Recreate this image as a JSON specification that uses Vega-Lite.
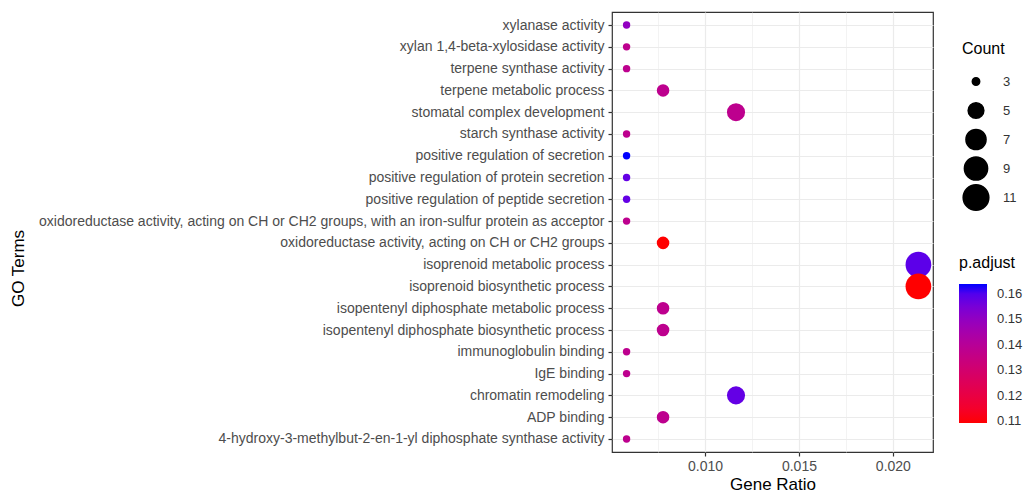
{
  "$schema": "https://vega.github.io/schema/vega-lite/v6.json",
  "autosize": {"type": "none"},
  "width": 321,
  "height": 440,
  "padding": {"left": 612, "top": 12, "right": 95, "bottom": 43},
  "background": "white",
  "config": {
    "font": "Liberation Sans",
    "view": {"stroke": "#333333", "strokeWidth": 1.2}
  },
  "data": {
    "values": [
      {"term": "xylanase activity", "ratio": 0.005825, "count": 3, "padj": 0.150},
      {"term": "xylan 1,4-beta-xylosidase activity", "ratio": 0.005825, "count": 3, "padj": 0.138},
      {"term": "terpene synthase activity", "ratio": 0.005825, "count": 3, "padj": 0.138},
      {"term": "terpene metabolic process", "ratio": 0.007767, "count": 4, "padj": 0.138},
      {"term": "stomatal complex development", "ratio": 0.01165, "count": 6, "padj": 0.138},
      {"term": "starch synthase activity", "ratio": 0.005825, "count": 3, "padj": 0.138},
      {"term": "positive regulation of secretion", "ratio": 0.005825, "count": 3, "padj": 0.1639},
      {"term": "positive regulation of protein secretion", "ratio": 0.005825, "count": 3, "padj": 0.158},
      {"term": "positive regulation of peptide secretion", "ratio": 0.005825, "count": 3, "padj": 0.158},
      {"term": "oxidoreductase activity, acting on CH or CH2 groups, with an iron-sulfur protein as acceptor", "ratio": 0.005825, "count": 3, "padj": 0.138},
      {"term": "oxidoreductase activity, acting on CH or CH2 groups", "ratio": 0.007767, "count": 4, "padj": 0.1092},
      {"term": "isoprenoid metabolic process", "ratio": 0.021359, "count": 11, "padj": 0.159},
      {"term": "isoprenoid biosynthetic process", "ratio": 0.021359, "count": 11, "padj": 0.1092},
      {"term": "isopentenyl diphosphate metabolic process", "ratio": 0.007767, "count": 4, "padj": 0.138},
      {"term": "isopentenyl diphosphate biosynthetic process", "ratio": 0.007767, "count": 4, "padj": 0.138},
      {"term": "immunoglobulin binding", "ratio": 0.005825, "count": 3, "padj": 0.138},
      {"term": "IgE binding", "ratio": 0.005825, "count": 3, "padj": 0.138},
      {"term": "chromatin remodeling", "ratio": 0.01165, "count": 6, "padj": 0.158},
      {"term": "ADP binding", "ratio": 0.007767, "count": 4, "padj": 0.138},
      {"term": "4-hydroxy-3-methylbut-2-en-1-yl diphosphate synthase activity", "ratio": 0.005825, "count": 3, "padj": 0.138}
    ]
  },
  "mark": {"type": "circle", "opacity": 1},
  "encoding": {
    "x": {
      "field": "ratio",
      "type": "quantitative",
      "title": "Gene Ratio",
      "scale": {"domain": [0.005049, 0.022136], "nice": false, "zero": false},
      "axis": {
        "values": [0.0075, 0.01, 0.0125, 0.015, 0.0175, 0.02],
        "labelExpr": "(abs(datum.value*1000 - round(datum.value*200)*5) < 0.01) ? format(datum.value, '.3f') : ''",
        "format": ".3f",
        "domain": false,
        "grid": true,
        "gridColor": "#EBEBEB",
        "gridWidth": {"expr": "(abs(datum.value*1000 - round(datum.value*200)*5) < 0.01) ? 1.2 : 0.6"},
        "tickSize": {"expr": "(abs(datum.value*1000 - round(datum.value*200)*5) < 0.01) ? 4 : 0"},
        "tickColor": "#333333",
        "tickWidth": 1.2,
        "labelFontSize": 14,
        "labelColor": "#4D4D4D",
        "labelPadding": 3,
        "titleFontSize": 17,
        "titleFontWeight": "normal",
        "titleColor": "#000000",
        "titlePadding": 3
      }
    },
    "y": {
      "field": "term",
      "type": "nominal",
      "sort": null,
      "title": "GO Terms",
      "scale": {"type": "point", "padding": 0.6},
      "axis": {
        "domain": false,
        "grid": true,
        "gridColor": "#EBEBEB",
        "gridWidth": 1.2,
        "tickSize": 4,
        "tickColor": "#333333",
        "tickWidth": 1.2,
        "labelFontSize": 14,
        "labelColor": "#4D4D4D",
        "labelPadding": 4,
        "labelLimit": 700,
        "titleFontSize": 17,
        "titleFontWeight": "normal",
        "titleColor": "#000000",
        "titleX": -594,
        "titleY": 256,
        "titleAngle": -90,
        "titleAlign": "center",
        "titleBaseline": "middle"
      }
    },
    "size": {
      "field": "count",
      "type": "quantitative",
      "title": "Count",
      "scale": {"type": "sqrt", "domain": [3, 11], "range": [55, 660], "zero": false},
      "legend": {
        "orient": "none",
        "legendX": 350,
        "legendY": 29,
        "values": [3, 5, 7, 9, 11],
        "symbolFillColor": "black",
        "symbolStrokeColor": "black",
        "symbolType": "circle",
        "symbolOpacity": 1,
        "clipHeight": 29,
        "rowPadding": 0,
        "titleFontSize": 16,
        "titleFontWeight": "normal",
        "titleColor": "#000000",
        "titlePadding": 10,
        "labelFontSize": 13,
        "labelColor": "#333333",
        "labelOffset": 13
      }
    },
    "color": {
      "field": "padj",
      "type": "quantitative",
      "title": "p.adjust",
      "scale": {"domain": [0.1092, 0.1639], "range": ["red", "blue"], "interpolate": "lab"},
      "legend": {
        "orient": "none",
        "legendX": 347,
        "legendY": 243,
        "direction": "vertical",
        "gradientLength": 139,
        "gradientThickness": 28,
        "gradientStrokeWidth": 0,
        "values": [0.11, 0.12, 0.13, 0.14, 0.15, 0.16],
        "format": ".2f",
        "titleFontSize": 16,
        "titleFontWeight": "normal",
        "titleColor": "#000000",
        "titlePadding": 13,
        "labelFontSize": 13,
        "labelColor": "#333333",
        "labelOffset": 10
      }
    }
  }
}
